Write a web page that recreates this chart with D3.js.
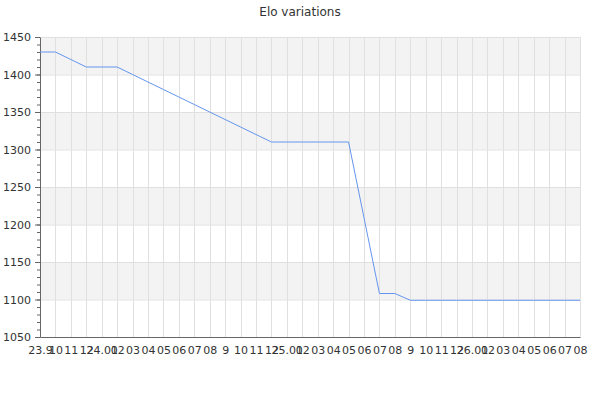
<!DOCTYPE html>
<html>
<head>
<meta charset="utf-8">
<script src="https://cdn.jsdelivr.net/npm/d3@7"></script>
<style>
  body { margin: 0; background: #fff; }
  svg { display: block; font-family: "DejaVu Sans", sans-serif; }
</style>
</head>
<body>
<div id="chart"></div>
<script>
// monthly labels, Sep 2023 .. Aug 2026
const labels = ["23.9", "10", "11", "12",
  "24.01", "02", "03", "04", "05", "06", "07", "08", "9", "10", "11", "12",
  "25.01", "02", "03", "04", "05", "06", "07", "08", "9", "10", "11", "12",
  "26.01", "02", "03", "04", "05", "06", "07", "08"];

const elo = [1430, 1430, 1420, 1410, 1410, 1410, 1400, 1390, 1380, 1370, 1360, 1350,
  1340, 1330, 1320, 1310, 1310, 1310, 1310, 1310, 1310, 1209, 1108, 1108,
  1099, 1099, 1099, 1099, 1099, 1099, 1099, 1099, 1099, 1099, 1099, 1099];

const yTicks = [1050, 1100, 1150, 1200, 1250, 1300, 1350, 1400, 1450];

const W = 600, H = 400;
const margin = { top: 37, right: 20, bottom: 63, left: 40 },
      width  = W - margin.left - margin.right,
      height = H - margin.top - margin.bottom;

const svg = d3.select("#chart")
  .append("svg")
    .attr("width", W)
    .attr("height", H);

svg.append("text")
    .attr("x", W / 2)
    .attr("y", 16)
    .attr("text-anchor", "middle")
    .attr("fill", "#333")
    .style("font-size", "12px")
    .text("Elo variations");

const g = svg.append("g")
    .attr("transform", `translate(${margin.left},${margin.top})`);

const x = d3.scalePoint()
    .domain(d3.range(labels.length))
    .range([0, width]);

const y = d3.scaleLinear()
    .domain([1050, 1450])
    .range([height, 0]);

// alternating bands
const bands = yTicks.slice(0, -1).map((v, i) => ({ lo: v, hi: yTicks[i + 1], i }));
g.selectAll(".band")
  .data(bands.filter(d => d.i % 2 === 1))
  .enter().append("rect")
    .attr("x", 0)
    .attr("width", width)
    .attr("y", d => y(d.hi))
    .attr("height", d => y(d.lo) - y(d.hi))
    .attr("fill", "#f3f3f3");

// grid
g.selectAll(".hgrid")
  .data(yTicks)
  .enter().append("line")
    .attr("x1", 0).attr("x2", width)
    .attr("y1", d => y(d) + 0.5).attr("y2", d => y(d) + 0.5)
    .attr("stroke", "#e0e0e0");

g.selectAll(".vgrid")
  .data(d3.range(labels.length))
  .enter().append("line")
    .attr("x1", d => Math.round(x(d)) + 0.5).attr("x2", d => Math.round(x(d)) + 0.5)
    .attr("y1", 0).attr("y2", height)
    .attr("stroke", "#e0e0e0");

// y axis with minor ticks
const yAxis = g.append("g")
    .call(d3.axisLeft(y).tickValues(d3.range(1050, 1451, 10)).tickSize(3).tickFormat(""));
yAxis.select(".domain").remove();
yAxis.selectAll("line").attr("stroke", "#666");

const yMajor = g.append("g")
    .call(d3.axisLeft(y).tickValues(yTicks).tickFormat(d3.format("d"))
      .tickSize(5).tickSizeOuter(0).tickPadding(4));
yMajor.select(".domain").attr("stroke", "#666");
yMajor.selectAll("line").attr("stroke", "#666");
yMajor.selectAll("text")
    .attr("fill", "#333")
    .style("font-size", "11px")
    .style("font-family", "DejaVu Sans, sans-serif");

// x axis
const xAxis = g.append("g")
    .attr("transform", `translate(0,${height})`)
    .call(d3.axisBottom(x).tickFormat(i => labels[i]).tickSize(0).tickSizeOuter(0).tickPadding(9));
xAxis.select(".domain").attr("stroke", "#666");
xAxis.selectAll("text")
    .attr("fill", "#333")
    .style("font-size", "11px")
    .style("font-family", "DejaVu Sans, sans-serif");

// line
const line = d3.line()
    .x((d, i) => x(i))
    .y(d => y(d));

g.append("path")
    .datum(elo)
    .attr("fill", "none")
    .attr("stroke", "#6495ed")
    .attr("stroke-width", 1)
    .attr("d", line);
</script>
</body>
</html>
